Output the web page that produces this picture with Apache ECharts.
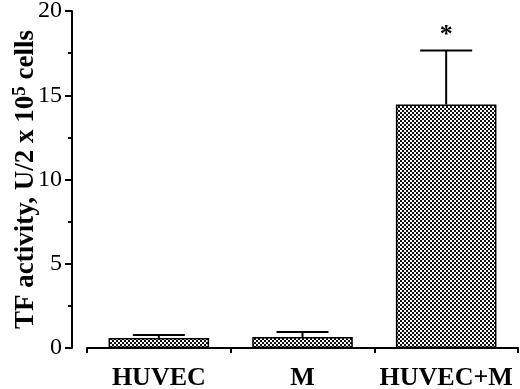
<!DOCTYPE html>
<html>
<head>
<meta charset="utf-8">
<script src="https://cdn.jsdelivr.net/npm/echarts@6/dist/echarts.min.js"></script>
<style>
  html, body { margin: 0; padding: 0; background: #fff; }
  #main { width: 520px; height: 389px; }
</style>
</head>
<body>
<div id="main"></div>
<script>
// data
var groups = ['HUVEC', 'M', 'HUVEC+M'];
var tfMeans = [0.6, 0.65, 14.45];
var tfErrors = [0.17, 0.3, 3.2];
var sigMarks = ['', '', '*'];
var yTicks = [0, 5, 10, 15, 20];

var serif = '"Liberation Serif", "DejaVu Serif", serif';

// checkerboard fill like the printed halftone
function makePattern() {
  var c = document.createElement('canvas');
  c.width = 4; c.height = 4;
  var ctx = c.getContext('2d');
  ctx.fillStyle = '#ffffff';
  ctx.fillRect(0, 0, 4, 4);
  ctx.fillStyle = '#111111';
  ctx.fillRect(0, 0, 2, 2);
  ctx.fillRect(2, 2, 2, 2);
  return c;
}

var chart = echarts.init(document.getElementById('main'));

var option = {
  backgroundColor: '#fff',
  animation: false,
  grid: { left: 87, right: 2, top: 11, bottom: 41, containLabel: false, outerBoundsMode: 'none' },
  xAxis: {
    type: 'category',
    data: groups,
    axisLine: { lineStyle: { color: '#000', width: 2 } },
    axisTick: { show: true, length: 5, lineStyle: { color: '#000', width: 2 } },
    axisLabel: {
      interval: 0,
      color: '#000', fontFamily: serif, fontWeight: 'bold', fontSize: 26, margin: 17
    }
  },
  yAxis: {
    type: 'value',
    min: yTicks[0],
    max: yTicks[yTicks.length - 1],
    interval: 5,
    offset: 15,
    axisLine: { show: true, lineStyle: { color: '#000', width: 2 } },
    axisTick: { show: true, length: 7, lineStyle: { color: '#000', width: 2 } },
    minorTick: { show: true, splitNumber: 2, length: 4, lineStyle: { color: '#000', width: 2 } },
    splitLine: { show: false },
    axisLabel: { color: '#000', fontFamily: serif, fontSize: 24, margin: 10 },
    name: '{t|TF activity, U/2 x 10}{s|5}{t| cells}',
    nameLocation: 'middle',
    nameGap: 30,
    nameMoveOverlap: false,
    nameRotate: 90,
    nameTextStyle: {
      rich: {
        t: { fontFamily: serif, fontWeight: 'bold', fontSize: 27, color: '#000' },
        s: { fontFamily: serif, fontWeight: 'bold', fontSize: 19, color: '#000', verticalAlign: 'top', padding: [0, 0, 12, 0] }
      }
    }
  },
  series: [
    {
      type: 'bar',
      data: tfMeans,
      barWidth: '70%',
      itemStyle: {
        color: { image: makePattern(), repeat: 'repeat' },
        borderColor: '#000',
        borderWidth: 1.5
      }
    },
    {
      type: 'custom',
      data: tfMeans.map(function (v, i) { return [i, v, tfErrors[i]]; }),
      renderItem: function (params, api) {
        var i = api.value(0);
        var top = api.coord([i, api.value(1)]);
        var hi = api.coord([i, api.value(1) + api.value(2)]);
        var half = 26;
        var st = { stroke: '#000', lineWidth: 2 };
        var children = [
          { type: 'line', shape: { x1: top[0], y1: top[1], x2: hi[0], y2: hi[1] }, style: st },
          { type: 'line', shape: { x1: hi[0] - half, y1: hi[1], x2: hi[0] + half, y2: hi[1] }, style: st }
        ];
        var mark = sigMarks[params.dataIndex];
        if (mark) {
          children.push({
            type: 'text',
            style: {
              text: mark, x: hi[0], y: hi[1] - 2,
              align: 'center', verticalAlign: 'bottom',
              font: 'bold 26px ' + serif, fill: '#000'
            }
          });
        }
        return { type: 'group', children: children };
      },
      z: 5
    }
  ]
};

chart.setOption(option);
</script>
</body>
</html>
